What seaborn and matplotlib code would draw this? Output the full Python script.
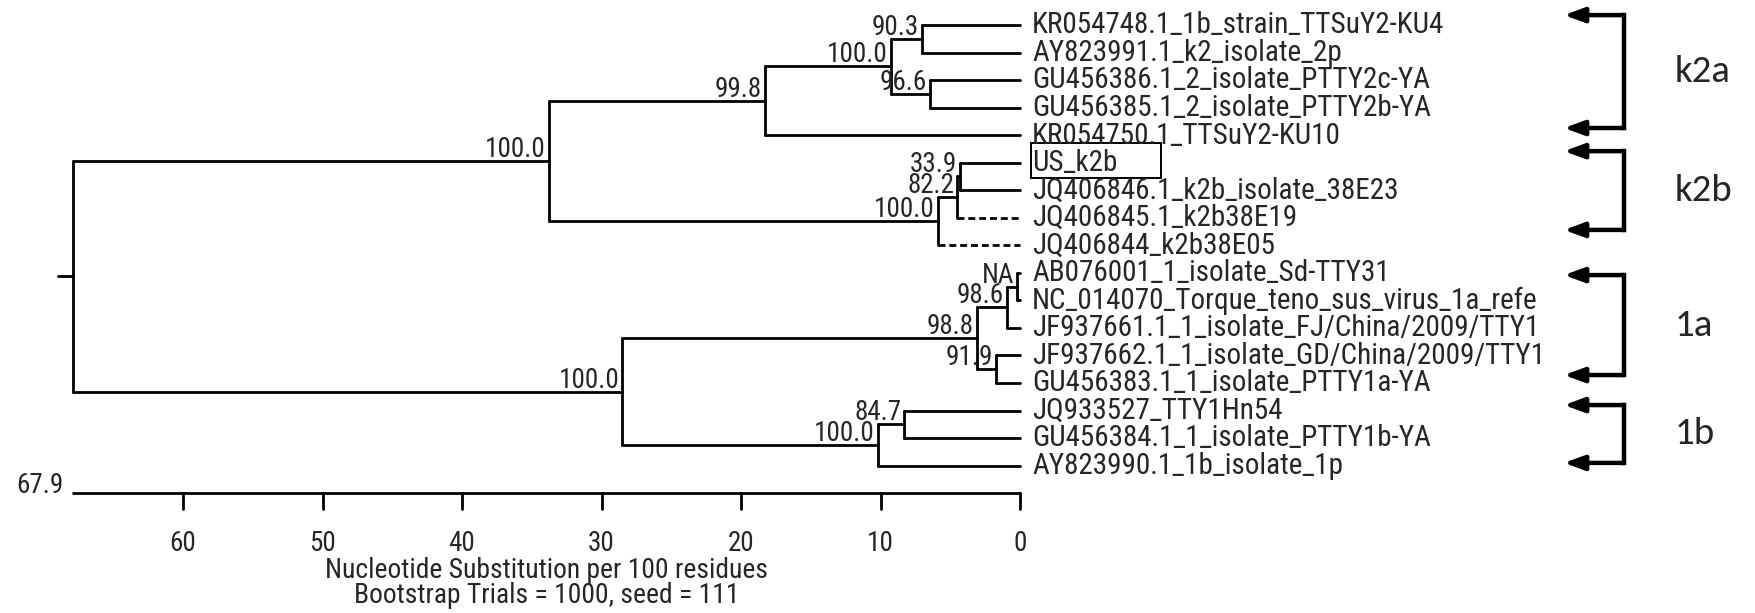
import matplotlib
matplotlib.use('Agg')
import matplotlib.pyplot as plt
from matplotlib import font_manager
from matplotlib.patches import Rectangle
import numpy as np
import pandas as pd
import seaborn as sns

# leaves, top to bottom
leaves = ['KR054748.1_1b_strain_TTSuY2-KU4',
          'AY823991.1_k2_isolate_2p',
          'GU456386.1_2_isolate_PTTY2c-YA',
          'GU456385.1_2_isolate_PTTY2b-YA',
          'KR054750.1_TTSuY2-KU10',
          'US_k2b',
          'JQ406846.1_k2b_isolate_38E23',
          'JQ406845.1_k2b38E19',
          'JQ406844_k2b38E05',
          'AB076001_1_isolate_Sd-TTY31',
          'NC_014070_Torque_teno_sus_virus_1a_refe',
          'JF937661.1_1_isolate_FJ/China/2009/TTY1',
          'JF937662.1_1_isolate_GD/China/2009/TTY1',
          'GU456383.1_1_isolate_PTTY1a-YA',
          'JQ933527_TTY1Hn54',
          'GU456384.1_1_isolate_PTTY1b-YA',
          'AY823990.1_1b_isolate_1p']

# internal nodes (children first), height = substitutions per 100 residues
node_names = ['a1', 'a2', 'a3', 'k2a', 'b1', 'b2', 'k2b', 'k2',
              'c1', 'c2', 'c3', 'g1a', 'd1', 'g1b', 'g1', 'root']
node_children = [(leaves[0], leaves[1]), (leaves[2], leaves[3]), ('a1', 'a2'), ('a3', leaves[4]),
                 (leaves[5], leaves[6]), ('b1', leaves[7]), ('b2', leaves[8]), ('k2a', 'k2b'),
                 (leaves[9], leaves[10]), ('c1', leaves[11]), (leaves[12], leaves[13]), ('c2', 'c3'),
                 (leaves[14], leaves[15]), ('d1', leaves[16]), ('g1a', 'g1b'), ('k2', 'g1')]
node_heights = [7.05, 6.45, 9.25, 18.3, 4.3, 4.5, 5.9, 33.8,
                0.2, 0.95, 1.72, 3.1, 8.3, 10.2, 28.5, 67.9]
node_support = ['90.3', '96.6', '100.0', '99.8', '33.9', '82.2', '100.0', '100.0',
                'NA', '98.6', '91.9', '98.8', '84.7', '100.0', '100.0', '']

dashed_leaves = ['JQ406845.1_k2b38E19', 'JQ406844_k2b38E05']
boxed_leaf = 'US_k2b'

group_names = ['k2a', 'k2b', '1a', '1b']
group_top = [-0.36, 4.58, 9.08, 13.80]
group_bottom = [3.74, 7.44, 12.71, 15.90]

scale_ticks = [60, 50, 40, 30, 20, 10, 0]
tree_depth = 67.9
scale_title = ['Nucleotide Substitution per 100 residues', 'Bootstrap Trials = 1000, seed = 111']

sns.set_style('white')

available = {f.name for f in font_manager.fontManager.ttflist}


def pick(cands):
    for c in cands:
        if c in available:
            return c
    return 'DejaVu Sans'


tree_font = pick(['Liberation Sans Narrow', 'Arial Narrow', 'Roboto Condensed', 'Archivo Narrow',
                  'PT Sans Narrow', 'Fira Sans Condensed', 'Pragati Narrow'])
group_font = pick(['Carlito', 'Lato', 'Open Sans'])
plt.rcParams['font.family'] = [tree_font, 'DejaVu Sans']

# layout of the tree
ypos = {name: float(i) for i, name in enumerate(leaves)}
hpos = {name: 0.0 for name in leaves}
for name, kids, h in zip(node_names, node_children, node_heights):
    ypos[name] = (ypos[kids[0]] + ypos[kids[-1]]) / 2
    hpos[name] = h

rows = []
seg = 0
for name, kids in zip(node_names, node_children):
    h = hpos[name]
    rows.append({'seg': seg, 'x': h, 'y': ypos[kids[0]], 'kind': 'solid'})
    rows.append({'seg': seg, 'x': h, 'y': ypos[kids[-1]], 'kind': 'solid'})
    seg += 1
    for k in kids:
        kind = 'dashed' if k in dashed_leaves else 'solid'
        rows.append({'seg': seg, 'x': h, 'y': ypos[k], 'kind': kind})
        rows.append({'seg': seg, 'x': hpos[k], 'y': ypos[k], 'kind': kind})
        seg += 1
# root stub
rows.append({'seg': seg, 'x': tree_depth, 'y': ypos['root'], 'kind': 'solid'})
rows.append({'seg': seg, 'x': tree_depth + 1.05, 'y': ypos['root'], 'kind': 'solid'})
seg += 1
# scale bar
bar_y = len(leaves)
rows.append({'seg': seg, 'x': tree_depth, 'y': bar_y, 'kind': 'solid'})
rows.append({'seg': seg, 'x': 0, 'y': bar_y, 'kind': 'solid'})
seg += 1
for t in scale_ticks:
    rows.append({'seg': seg, 'x': t, 'y': bar_y, 'kind': 'solid'})
    rows.append({'seg': seg, 'x': t, 'y': bar_y + 0.58, 'kind': 'solid'})
    seg += 1
seg_df = pd.DataFrame(rows)

fig = plt.figure(figsize=(17.56, 6.13), dpi=100)
ax = fig.add_axes([0, 0, 1, 1])

# size the narrow font from the width of the first label (about 412 px in the image)
probe = fig.text(0, 0, leaves[0], fontsize=20)
fig.canvas.draw()
w = probe.get_window_extent().width
probe.remove()
leaf_size = min(26, 20 * 412 / w)
tree_size = min(24, 20 * 384 / w)

sns.lineplot(data=seg_df, x='x', y='y', units='seg', estimator=None, sort=False,
             style='kind', dashes={'solid': '', 'dashed': (2.5, 1.4)},
             color='black', linewidth=2, legend=False, ax=ax)

# leaf names
for name in leaves:
    ax.annotate(name, xy=(0, ypos[name]), xytext=(8.6, -6.0), textcoords='offset points',
                ha='left', va='baseline', fontsize=leaf_size)
by = ypos[boxed_leaf]
ax.add_patch(Rectangle((-0.79, by - 0.72), -9.3, 1.28, fill=False, ec='black', lw=1.4))

# bootstrap values
for name, sup in zip(node_names, node_support):
    if sup:
        ax.annotate(sup, xy=(hpos[name], ypos[name]), xytext=(-2.2, 2.9),
                    textcoords='offset points', ha='right', va='baseline', fontsize=tree_size)

# scale labels
ax.annotate(f'{tree_depth}', xy=(tree_depth, bar_y), xytext=(-7, 0), textcoords='offset points',
            ha='right', va='baseline', fontsize=tree_size)
for t in scale_ticks:
    ax.text(t, bar_y + 2.1, str(t), ha='center', va='baseline', fontsize=tree_size)
for i, line in enumerate(scale_title):
    ax.text(tree_depth / 2, bar_y + 3.08 + 0.9 * i, line, ha='center', va='baseline',
            fontsize=tree_size * 1.02)

# group brackets
tip_x, stem_x = -39.0, -43.3
for name, top, bot in zip(group_names, group_top, group_bottom):
    ax.plot([stem_x, stem_x], [top, bot], color='black', lw=3.2, solid_capstyle='projecting')
    for yy in (top, bot):
        ax.annotate('', xy=(tip_x, yy), xytext=(stem_x, yy),
                    arrowprops=dict(arrowstyle='-|>,head_length=0.6,head_width=0.22',
                                    mutation_scale=20, color='black', lw=3.2,
                                    shrinkA=0, shrinkB=0))
    ax.text(-46.9, (top + bot) / 2, name, ha='left', va='center', fontsize=28,
            family=[group_font, 'DejaVu Sans'])

ax.set_xlim(73.12, -52.76)
ax.set_ylim(21.35, -0.908)
ax.axis('off')
fig.savefig('out.png', dpi=100)
